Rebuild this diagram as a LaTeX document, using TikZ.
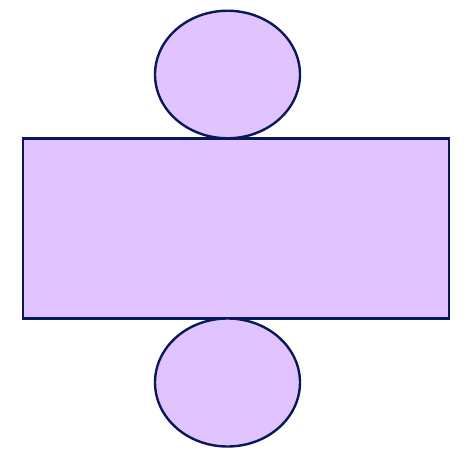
\documentclass[tikz,border=0pt]{standalone}
\usetikzlibrary{shapes.geometric}
\definecolor{netfill}{HTML}{E1C4FF}
\definecolor{netline}{HTML}{0B1858}
\begin{document}
\begin{tikzpicture}[x=1pt,y=-1pt]
	\useasboundingbox (0,0) rectangle (474,452);
	\begin{scope}[every node/.style={draw=netline,fill=netfill,line width=2.4pt,inner sep=0pt}]
	\node[rectangle,minimum width=426.5pt,minimum height=180pt] (side) at (236,228.5) {};
	\node[ellipse,minimum width=145pt,minimum height=127.5pt] (top) at (227.5,74.5) {};
	\node[ellipse,minimum width=145pt,minimum height=128pt] (bottom) at (227.5,382.5) {};
	\end{scope}
\end{tikzpicture}
\end{document}
